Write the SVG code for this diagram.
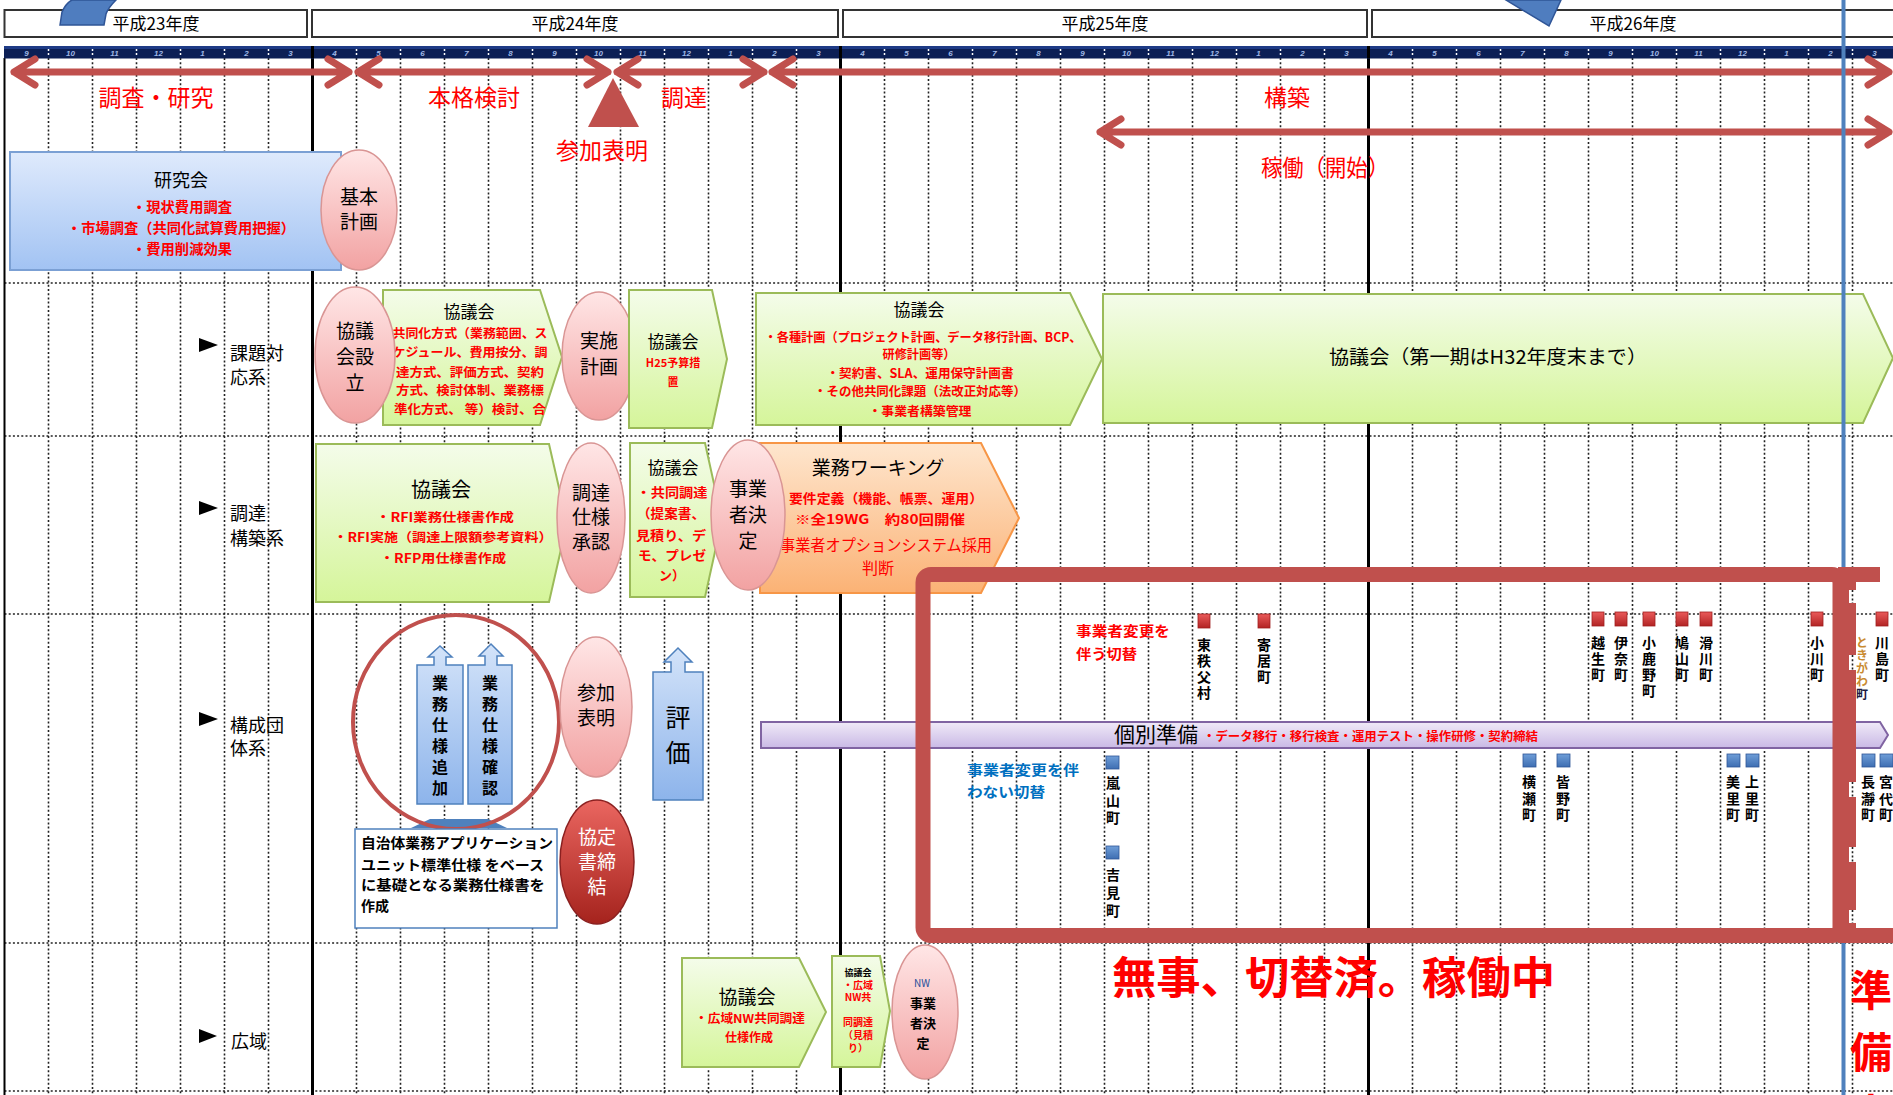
<svg xmlns="http://www.w3.org/2000/svg" width="1893" height="1095" viewBox="0 0 1893 1095">
<defs>
<linearGradient id="gBlue" x1="0" y1="0" x2="0" y2="1"><stop offset="0" stop-color="#dfeafc"/><stop offset="1" stop-color="#a2c3f3"/></linearGradient>
<linearGradient id="gPink" x1="0" y1="0" x2="0" y2="1"><stop offset="0" stop-color="#ffe6e6"/><stop offset="1" stop-color="#f2a2a2"/></linearGradient>
<linearGradient id="gGreen" x1="0" y1="0" x2="0" y2="1"><stop offset="0" stop-color="#f4fcea"/><stop offset="1" stop-color="#d5f59a"/></linearGradient>
<linearGradient id="gOrange" x1="0" y1="0" x2="0" y2="1"><stop offset="0" stop-color="#fee6ce"/><stop offset="1" stop-color="#fbb275"/></linearGradient>
<linearGradient id="gPurple" x1="0" y1="0" x2="0" y2="1"><stop offset="0" stop-color="#f0eaf8"/><stop offset="1" stop-color="#c9b9e5"/></linearGradient>
<linearGradient id="gDark" x1="0" y1="0" x2="0" y2="1"><stop offset="0" stop-color="#ea6660"/><stop offset="1" stop-color="#a5231d"/></linearGradient>
<linearGradient id="gCall" x1="0" y1="0" x2="0" y2="1"><stop offset="0" stop-color="#d3e3f9"/><stop offset="1" stop-color="#8db4eb"/></linearGradient>
<linearGradient id="gSqR" x1="0" y1="0" x2="0" y2="1"><stop offset="0" stop-color="#ea5a5a"/><stop offset="1" stop-color="#b22424"/></linearGradient>
<linearGradient id="gSqB" x1="0" y1="0" x2="0" y2="1"><stop offset="0" stop-color="#6f9ed8"/><stop offset="1" stop-color="#3e6eb2"/></linearGradient>
<style>
.f{font-family:"Noto Sans CJK JP","Noto Sans CJK SC",sans-serif}
.c{text-anchor:middle}
.b{font-weight:bold}
.r{fill:#ff0000}
.k{fill:#000}
.w{fill:#fff}
.v{writing-mode:vertical-rl;text-orientation:upright}
.dot{fill:none;stroke:#222;stroke-width:1.6;stroke-dasharray:2 2.2}
.thick{fill:none;stroke:#000;stroke-width:3}
.arr{fill:none;stroke:#c0504d;stroke-width:7;stroke-linecap:round;stroke-linejoin:round}
.pink{fill:url(#gPink);stroke:#d99594;stroke-width:1.5}
.green{fill:url(#gGreen);stroke:#9bbb59;stroke-width:2}
.orange{fill:url(#gOrange);stroke:#f79646;stroke-width:2}
.purple{fill:url(#gPurple);stroke:#8064a2;stroke-width:2}
.call{fill:url(#gCall);stroke:#4f81bd;stroke-width:1.5}
.sqr{fill:url(#gSqR);stroke:#a02020;stroke-width:0.8}
.sqb{fill:url(#gSqB);stroke:#2f5597;stroke-width:0.8}
.yr{fill:#fff;stroke:#333;stroke-width:2}
.ml{font-family:"Liberation Sans",sans-serif;font-size:8px;font-style:italic;font-weight:bold;fill:#9fb7e6;text-anchor:middle}
.frame{fill:#c0504d}
.tn{font-size:14px;letter-spacing:2px}
.tb{font-size:14px;letter-spacing:2.5px}
</style>
</defs>
<rect width="1893" height="1095" fill="#fff"/>

<g id="grid">
<path class="dot" d="M48.5,58V1095M92.5,58V1095M136.5,58V1095M180.5,58V1095M224.5,58V1095M268.5,58V1095M356.5,58V1095M400.5,58V1095M444.5,58V1095M488.5,58V1095M532.5,58V1095M576.5,58V1095M620.5,58V1095M664.5,58V1095M708.5,58V1095M752.5,58V1095M796.5,58V1095M884.5,58V1095M928.5,58V1095M972.5,58V1095M1016.5,58V1095M1060.5,58V1095M1104.5,58V1095M1148.5,58V1095M1192.5,58V1095M1236.5,58V1095M1280.5,58V1095M1324.5,58V1095M1412.5,58V1095M1456.5,58V1095M1500.5,58V1095M1544.5,58V1095M1588.5,58V1095M1632.5,58V1095M1676.5,58V1095M1720.5,58V1095M1764.5,58V1095M1808.5,58V1095M1852.5,58V1095"/>
<path class="dot" d="M4.5,283H1893M4.5,436H1893M4.5,614H1893M4.5,943H1893M4.5,1091H1893"/>
<path class="thick" d="M312.5,58V1095M840.5,58V1095M1368.5,58V1095"/>
<path d="M4.5,58V1095" stroke="#000" stroke-width="2"/>
</g>

<g id="header">
<rect x="4" y="46" width="1889" height="12.5" fill="#0c1f55"/>
<rect x="4" y="46" width="1889" height="3" fill="#1e3b86"/>
<path d="M312.5,46V58M840.5,46V58M1368.5,46V58" stroke="#000" stroke-width="3"/>
<path d="M48.5,49V57M92.5,49V57M136.5,49V57M180.5,49V57M224.5,49V57M268.5,49V57M356.5,49V57M400.5,49V57M444.5,49V57M488.5,49V57M532.5,49V57M576.5,49V57M620.5,49V57M664.5,49V57M708.5,49V57M752.5,49V57M796.5,49V57M884.5,49V57M928.5,49V57M972.5,49V57M1016.5,49V57M1060.5,49V57M1104.5,49V57M1148.5,49V57M1192.5,49V57M1236.5,49V57M1280.5,49V57M1324.5,49V57M1412.5,49V57M1456.5,49V57M1500.5,49V57M1544.5,49V57M1588.5,49V57M1632.5,49V57M1676.5,49V57M1720.5,49V57M1764.5,49V57M1808.5,49V57M1852.5,49V57" stroke="#fff" stroke-width="1.5" stroke-dasharray="2 2"/>
<text class="ml" x="26.5" y="56">9</text><text class="ml" x="70.5" y="56">10</text><text class="ml" x="114.5" y="56">11</text><text class="ml" x="158.5" y="56">12</text><text class="ml" x="202.5" y="56">1</text><text class="ml" x="246.5" y="56">2</text><text class="ml" x="290.5" y="56">3</text>
<text class="ml" x="334.5" y="56">4</text><text class="ml" x="378.5" y="56">5</text><text class="ml" x="422.5" y="56">6</text><text class="ml" x="466.5" y="56">7</text><text class="ml" x="510.5" y="56">8</text><text class="ml" x="554.5" y="56">9</text><text class="ml" x="598.5" y="56">10</text><text class="ml" x="642.5" y="56">11</text><text class="ml" x="686.5" y="56">12</text><text class="ml" x="730.5" y="56">1</text><text class="ml" x="774.5" y="56">2</text><text class="ml" x="818.5" y="56">3</text>
<text class="ml" x="862.5" y="56">4</text><text class="ml" x="906.5" y="56">5</text><text class="ml" x="950.5" y="56">6</text><text class="ml" x="994.5" y="56">7</text><text class="ml" x="1038.5" y="56">8</text><text class="ml" x="1082.5" y="56">9</text><text class="ml" x="1126.5" y="56">10</text><text class="ml" x="1170.5" y="56">11</text><text class="ml" x="1214.5" y="56">12</text><text class="ml" x="1258.5" y="56">1</text><text class="ml" x="1302.5" y="56">2</text><text class="ml" x="1346.5" y="56">3</text>
<text class="ml" x="1390.5" y="56">4</text><text class="ml" x="1434.5" y="56">5</text><text class="ml" x="1478.5" y="56">6</text><text class="ml" x="1522.5" y="56">7</text><text class="ml" x="1566.5" y="56">8</text><text class="ml" x="1610.5" y="56">9</text><text class="ml" x="1654.5" y="56">10</text><text class="ml" x="1698.5" y="56">11</text><text class="ml" x="1742.5" y="56">12</text><text class="ml" x="1786.5" y="56">1</text><text class="ml" x="1830.5" y="56">2</text><text class="ml" x="1874.5" y="56">3</text>
<rect class="yr" x="4.5" y="10" width="302.5" height="27"/>
<rect class="yr" x="312" y="10" width="526" height="27"/>
<rect class="yr" x="843" y="10" width="524" height="27"/>
<rect class="yr" x="1372" y="10" width="530" height="27"/>
<text class="f c k" font-size="17" x="156" y="30">平成23年度</text>
<text class="f c k" font-size="17" x="575" y="30">平成24年度</text>
<text class="f c k" font-size="17" x="1105" y="30">平成25年度</text>
<text class="f c k" font-size="17" x="1633" y="30">平成26年度</text>
<path d="M60,25 L62,12 Q66,3 72,0 L116,0 Q108,8 106,14 L104,25 Z" fill="#4f7dbf" stroke="#2f5597" stroke-width="1.5"/>
<path d="M1506,0 L1561,0 L1549,26 Z" fill="#4f7dbf" stroke="#2f5597" stroke-width="1.5"/>
</g>

<g id="row-labels">
<polygon points="199,338 199,352 218,345" fill="#000"/>
<text class="f k" font-size="18" x="230" y="360">課題対</text>
<text class="f k" font-size="18" x="230" y="384">応系</text>
<polygon points="199,501 199,515 218,508" fill="#000"/>
<text class="f k" font-size="18" x="230" y="520">調達</text>
<text class="f k" font-size="18" x="230" y="545">構築系</text>
<polygon points="199,712 199,726 218,719" fill="#000"/>
<text class="f k" font-size="18" x="230" y="732">構成団</text>
<text class="f k" font-size="18" x="230" y="755">体系</text>
<polygon points="199,1029 199,1043 217,1036" fill="#000"/>
<text class="f k" font-size="18" x="231" y="1048">広域</text>
</g>

<g id="connectors">
<path class="arr" d="M14,72H349M35,59L14,72L35,85M328,59L349,72L328,85"/>
<path class="arr" d="M358,72H608M379,59L358,72L379,85M587,59L608,72L587,85"/>
<path class="arr" d="M617,72H764M638,59L617,72L638,85M743,59L764,72L743,85"/>
<path class="arr" d="M772,72H1889M793,59L772,72L793,85M1868,59L1889,72L1868,85"/>
<path class="arr" d="M1100,132H1889M1121,119L1100,132L1121,145M1868,119L1889,132L1868,145"/>
<polygon points="613,78 588,127 639,127" fill="#c0504d"/>
</g>

<g id="phase-labels">
<text class="f c r" font-size="23" x="156" y="106">調査・研究</text>
<text class="f c r" font-size="23" x="474" y="106">本格検討</text>
<text class="f c r" font-size="23" x="684" y="106">調達</text>
<text class="f c r" font-size="23" x="602" y="159">参加表明</text>
<text class="f c r" font-size="23" x="1287" y="106">構築</text>
<text class="f r" font-size="23" x="1261" y="176" textLength="128" lengthAdjust="spacingAndGlyphs">稼働（開始）</text>
</g>

<g id="kenkyukai">
<rect x="10" y="152" width="331" height="118" fill="url(#gBlue)" stroke="#7ba0d4" stroke-width="2"/>
<text class="f c k" font-size="18" x="181" y="187">研究会</text>
<text class="f c b r" font-size="14" x="182" y="212" textLength="100" lengthAdjust="spacingAndGlyphs">・現状費用調査</text>
<text class="f c b r" font-size="14" x="181" y="233" textLength="228" lengthAdjust="spacingAndGlyphs">・市場調査（共同化試算費用把握）</text>
<text class="f c b r" font-size="14" x="182" y="254" textLength="100" lengthAdjust="spacingAndGlyphs">・費用削減効果</text>
</g>
<g id="kihon-keikaku">
<ellipse class="pink" cx="359" cy="210" rx="38" ry="60"/>
<text class="f c k" font-size="19" x="359" y="204">基本</text>
<text class="f c k" font-size="19" x="359" y="229">計画</text>
</g>

<g id="kyogikai-a">
<polygon class="green" points="383,290 540,290 562,357 540,425 383,425"/>
<text class="f c k" font-size="17" x="469" y="318">協議会</text>
<text class="f c b r" font-size="12.5" x="470" y="338" textLength="155" lengthAdjust="spacingAndGlyphs">共同化方式（業務範囲、ス</text>
<text class="f c b r" font-size="12.5" x="470" y="357" textLength="155" lengthAdjust="spacingAndGlyphs">ケジュール、費用按分、調</text>
<text class="f c b r" font-size="12.5" x="470" y="377" textLength="148" lengthAdjust="spacingAndGlyphs">達方式、評価方式、契約</text>
<text class="f c b r" font-size="12.5" x="470" y="395" textLength="148" lengthAdjust="spacingAndGlyphs">方式、検討体制、業務標</text>
<text class="f c b r" font-size="12.5" x="470" y="414" textLength="152" lengthAdjust="spacingAndGlyphs">準化方式、 等）検討、合</text>
</g>
<g id="kyogikai-setsuritsu">
<ellipse class="pink" cx="355" cy="355" rx="40" ry="68"/>
<text class="f c k" font-size="19" x="355" y="338">協議</text>
<text class="f c k" font-size="19" x="355" y="364">会設</text>
<text class="f c k" font-size="19" x="355" y="390">立</text>
</g>
<g id="jisshi-keikaku">
<ellipse class="pink" cx="599" cy="356" rx="37" ry="64"/>
<text class="f c k" font-size="19" x="599" y="348">実施</text>
<text class="f c k" font-size="19" x="599" y="374">計画</text>
</g>
<g id="kyogikai-b">
<polygon class="green" points="629,290 712,290 727,359 712,428 629,428"/>
<text class="f c k" font-size="17" x="673" y="348">協議会</text>
<text class="f c b r" font-size="11" x="673" y="367">H25予算措</text>
<text class="f c b r" font-size="11" x="673" y="386">置</text>
</g>
<g id="kyogikai-c">
<polygon class="green" points="756,293 1070,293 1102,359 1070,425 756,425"/>
<text class="f c k" font-size="17" x="919" y="316">協議会</text>
<text class="f c b r" font-size="12.5" x="923" y="342" textLength="317" lengthAdjust="spacingAndGlyphs">・各種計画（プロジェクト計画、データ移行計画、BCP、</text>
<text class="f c b r" font-size="12.5" x="919" y="359" textLength="73" lengthAdjust="spacingAndGlyphs">研修計画等）</text>
<text class="f c b r" font-size="12.5" x="920" y="378" textLength="187" lengthAdjust="spacingAndGlyphs">・契約書、SLA、運用保守計画書</text>
<text class="f c b r" font-size="12.5" x="920" y="396" textLength="212" lengthAdjust="spacingAndGlyphs">・その他共同化課題（法改正対応等）</text>
<text class="f c b r" font-size="12.5" x="920" y="416" textLength="103" lengthAdjust="spacingAndGlyphs">・事業者構築管理</text>
</g>
<g id="kyogikai-d">
<polygon class="green" points="1103,294 1863,294 1893,358 1863,423 1103,423"/>
<text class="f c k" font-size="19" x="1488" y="364" textLength="318" lengthAdjust="spacingAndGlyphs">協議会（第一期はH32年度末まで）</text>
</g>

<g id="kyogikai-e">
<polygon class="green" points="316,444 549,444 567,523 549,602 316,602"/>
<text class="f c k" font-size="20" x="441" y="497">協議会</text>
<text class="f c b r" font-size="12.5" x="445" y="522" textLength="138" lengthAdjust="spacingAndGlyphs">・RFI業務仕様書作成</text>
<text class="f c b r" font-size="12.5" x="443" y="542" textLength="219" lengthAdjust="spacingAndGlyphs">・RFI実施（調達上限額参考資料）</text>
<text class="f c b r" font-size="12.5" x="443" y="563" textLength="126" lengthAdjust="spacingAndGlyphs">・RFP用仕様書作成</text>
</g>
<g id="chotatsu-shiyo">
<ellipse class="pink" cx="591" cy="518" rx="34" ry="75"/>
<text class="f c k" font-size="19" x="591" y="500">調達</text>
<text class="f c k" font-size="19" x="591" y="524">仕様</text>
<text class="f c k" font-size="19" x="591" y="549">承認</text>
</g>
<g id="kyogikai-f">
<polygon class="green" points="630,443 705,443 722,520 705,597 630,597"/>
<text class="f c k" font-size="17" x="673" y="474">協議会</text>
<text class="f c b r" font-size="13" x="672" y="497" textLength="71" lengthAdjust="spacingAndGlyphs">・共同調達</text>
<text class="f c b r" font-size="13" x="671" y="518" textLength="68" lengthAdjust="spacingAndGlyphs">（提案書、</text>
<text class="f c b r" font-size="13" x="671" y="540" textLength="70" lengthAdjust="spacingAndGlyphs">見積り、デ</text>
<text class="f c b r" font-size="13" x="672" y="560" textLength="68" lengthAdjust="spacingAndGlyphs">モ、プレゼ</text>
<text class="f c b r" font-size="13" x="672" y="580">ン）</text>
</g>
<g id="gyomu-working">
<polygon class="orange" points="760,443 981,443 1019,518 981,593 760,593"/>
<text class="f c k" font-size="19" x="878" y="475">業務ワーキング</text>
<text class="f c b r" font-size="13" x="886" y="503" textLength="194" lengthAdjust="spacingAndGlyphs">要件定義（機能、帳票、運用）</text>
<text class="f c b r" font-size="13" x="880" y="524" textLength="170" lengthAdjust="spacingAndGlyphs">※全19WG　約80回開催</text>
<text class="f c r" font-size="16" x="886" y="551" textLength="212" lengthAdjust="spacingAndGlyphs">事業者オプションシステム採用</text>
<text class="f c r" font-size="16" x="878" y="574">判断</text>
</g>
<g id="jigyosha-kettei">
<ellipse class="pink" cx="748" cy="515" rx="37" ry="75"/>
<text class="f c k" font-size="19" x="748" y="496">事業</text>
<text class="f c k" font-size="19" x="748" y="522">者決</text>
<text class="f c k" font-size="19" x="748" y="548">定</text>
</g>

<g id="shiyo-callouts">
<polygon points="411,828 430,819 488,819 507,828" fill="#4f81bd"/>
<path class="call" d="M417,665 L434,665 L434,657 L428,657 L440,646 L452,657 L446,657 L446,665 L463,665 L463,804 L417,804 Z"/>
<text class="f b k v" font-size="16" letter-spacing="5" x="440" y="675">業務仕様追加</text>
<path class="call" d="M468,665 L485,665 L485,656 L479,656 L491,644 L503,656 L497,656 L497,665 L512,665 L512,804 L468,804 Z"/>
<text class="f b k v" font-size="16" letter-spacing="5" x="490" y="675">業務仕様確認</text>
<ellipse cx="456" cy="722" rx="103" ry="107" fill="none" stroke="#c0504d" stroke-width="4"/>
</g>
<g id="unit-note">
<rect x="355" y="829" width="202" height="99" fill="#fff" stroke="#4f81bd" stroke-width="1.5"/>
<text class="f b k" font-size="14" x="361" y="848" textLength="192" lengthAdjust="spacingAndGlyphs">自治体業務アプリケーション</text>
<text class="f b k" font-size="14" x="361" y="870" textLength="183" lengthAdjust="spacingAndGlyphs">ユニット標準仕様 をベース</text>
<text class="f b k" font-size="14" x="361" y="890" textLength="184" lengthAdjust="spacingAndGlyphs">に基礎となる業務仕様書を</text>
<text class="f b k" font-size="14" x="361" y="911">作成</text>
</g>
<g id="sanka-hyomei">
<ellipse class="pink" cx="596" cy="707" rx="36" ry="70"/>
<text class="f c k" font-size="19" x="596" y="700">参加</text>
<text class="f c k" font-size="19" x="596" y="725">表明</text>
</g>
<g id="kyoteisho">
<ellipse cx="597" cy="862" rx="37" ry="62" fill="url(#gDark)" stroke="#8b2020" stroke-width="1.5"/>
<text class="f c w" font-size="19" x="597" y="844">協定</text>
<text class="f c w" font-size="19" x="597" y="869">書締</text>
<text class="f c w" font-size="19" x="597" y="894">結</text>
</g>
<g id="hyoka">
<path class="call" d="M653,672 L671,672 L671,662 L664,662 L678,648 L692,662 L685,662 L685,672 L703,672 L703,800 L653,800 Z"/>
<text class="f c k" font-size="25" x="678" y="727">評</text>
<text class="f c k" font-size="25" x="678" y="762">価</text>
</g>
<g id="kobetsu-junbi">
<polygon class="purple" points="761,722 1880,722 1888,735 1880,748 761,748"/>
<text class="f k" font-size="21" x="1114" y="742">個別準備</text>
<text class="f b r" font-size="12" x="1203" y="741" textLength="335" lengthAdjust="spacingAndGlyphs">・データ移行・移行検査・運用テスト・操作研修・契約締結</text>
</g>

<g id="kouiki-a">
<polygon class="green" points="682,958 799,958 826,1012 799,1067 682,1067"/>
<text class="f c k" font-size="19" x="747" y="1004">協議会</text>
<text class="f c b r" font-size="12" x="750" y="1023" textLength="110" lengthAdjust="spacingAndGlyphs">・広域NW共同調達</text>
<text class="f c b r" font-size="12" x="749" y="1042">仕様作成</text>
</g>
<g id="kouiki-b">
<polygon class="green" points="832,956 880,956 890,1011 880,1067 832,1067"/>
<text class="f c b k" font-size="9" x="858" y="976">協議会</text>
<text class="f c b r" font-size="10" x="858" y="989">・広域</text>
<text class="f c b r" font-size="10" x="858" y="1001">NW共</text>
<text class="f c b r" font-size="10" x="858" y="1026">同調達</text>
<text class="f c b r" font-size="10" x="858" y="1039">（見積</text>
<text class="f c b r" font-size="10" x="858" y="1052">り）</text>
</g>
<g id="nw-jigyosha">
<ellipse class="pink" cx="925" cy="1012" rx="33" ry="67"/>
<text class="f c" font-size="10" fill="#1f4e9a" x="922" y="987">NW</text>
<text class="f c b k" font-size="13" x="923" y="1008">事業</text>
<text class="f c b k" font-size="13" x="923" y="1028">者決</text>
<text class="f c b k" font-size="13" x="923" y="1048">定</text>
</g>

<g id="now-line">
<rect x="1841.5" y="0" width="4" height="1095" fill="#4f81bd"/>
</g>

<g id="switch-towns">
<text class="f b r" font-size="14" x="1076" y="636" textLength="94" lengthAdjust="spacingAndGlyphs">事業者変更を</text>
<text class="f b r" font-size="14" x="1076" y="659" textLength="61" lengthAdjust="spacingAndGlyphs">伴う切替</text>
<text class="f b" font-size="14" fill="#0070c0" x="967" y="775" textLength="112" lengthAdjust="spacingAndGlyphs">事業者変更を伴</text>
<text class="f b" font-size="14" fill="#0070c0" x="967" y="797" textLength="78" lengthAdjust="spacingAndGlyphs">わない切替</text>
<g id="town-higashichichibu"><rect class="sqr" x="1198" y="614" width="12" height="14"/><text class="f b k v tn" x="1204" y="638">東秩父村</text></g>
<g id="town-yorii"><rect class="sqr" x="1258" y="614" width="12" height="14"/><text class="f b k v tn" x="1264" y="638">寄居町</text></g>
<g id="town-ogose"><rect class="sqr" x="1592" y="612" width="12" height="14"/><text class="f b k v tn" x="1598" y="636">越生町</text></g>
<g id="town-ina"><rect class="sqr" x="1615" y="612" width="12" height="14"/><text class="f b k v tn" x="1621" y="636">伊奈町</text></g>
<g id="town-ogano"><rect class="sqr" x="1643" y="612" width="12" height="14"/><text class="f b k v tn" x="1649" y="636">小鹿野町</text></g>
<g id="town-hatoyama"><rect class="sqr" x="1676" y="612" width="12" height="14"/><text class="f b k v tn" x="1682" y="636">鳩山町</text></g>
<g id="town-namegawa"><rect class="sqr" x="1700" y="612" width="12" height="14"/><text class="f b k v tn" x="1706" y="636">滑川町</text></g>
<g id="town-ogawa"><rect class="sqr" x="1811" y="612" width="12" height="14"/><text class="f b k v tn" x="1817" y="636">小川町</text></g>
<g id="town-tokigawa"><text class="f b v" font-size="12" letter-spacing="1" fill="#c98a30" x="1862" y="636">ときがわ<tspan fill="#1a1a40">町</tspan></text></g>
<g id="town-kawajima"><rect class="sqr" x="1876" y="612" width="12" height="14"/><text class="f b k v tn" x="1882" y="636">川島町</text></g>
<g id="town-ranzan"><rect class="sqb" x="1106" y="756" width="13" height="13"/><text class="f b k v" font-size="14" letter-spacing="3.5" x="1113" y="776">嵐山町</text></g>
<g id="town-yoshimi"><rect class="sqb" x="1106" y="846" width="13" height="13"/><text class="f b k v" font-size="14" letter-spacing="4" x="1113" y="868">吉見町</text></g>
<g id="town-yokoze"><rect class="sqb" x="1523" y="754" width="13" height="13"/><text class="f b k v tb" x="1529" y="775">横瀬町</text></g>
<g id="town-minano"><rect class="sqb" x="1557" y="754" width="13" height="13"/><text class="f b k v tb" x="1563" y="775">皆野町</text></g>
<g id="town-misato"><rect class="sqb" x="1727" y="754" width="13" height="13"/><text class="f b k v tb" x="1733" y="775">美里町</text></g>
<g id="town-kamisato"><rect class="sqb" x="1746" y="754" width="13" height="13"/><text class="f b k v tb" x="1752" y="775">上里町</text></g>
<g id="town-nagatoro"><rect class="sqb" x="1862" y="754" width="13" height="13"/><text class="f b k v tb" x="1868" y="775">長瀞町</text></g>
<g id="town-miyashiro"><rect class="sqb" x="1880" y="754" width="13" height="13"/><text class="f b k v tb" x="1886" y="775">宮代町</text></g>
</g>

<g id="red-frame">
<rect x="923" y="574.5" width="917" height="361" rx="8" fill="none" stroke="#c0504d" stroke-width="15"/>
<rect class="frame" x="1838" y="567" width="42" height="15"/>
<rect class="frame" x="1846" y="580" width="10" height="350"/>
<rect class="frame" x="1838" y="928" width="55" height="15"/>
<g fill="#fff"><rect x="1849" y="590" width="7" height="13"/><rect x="1849" y="655" width="7" height="15"/><rect x="1849" y="782" width="7" height="15"/><rect x="1849" y="847" width="7" height="15"/><rect x="1849" y="910" width="7" height="13"/></g>
<path d="M1852.5,590V603M1852.5,655V670M1852.5,782V797M1852.5,847V862M1852.5,910V923" stroke="#222" stroke-width="1.6" stroke-dasharray="2 2.2"/>
</g>

<g id="status-text">
<text class="f b r" font-size="44" x="1112" y="994" textLength="443" lengthAdjust="spacingAndGlyphs">無事、切替済。稼働中</text>
<text class="f b r v" font-size="42" letter-spacing="20" x="1871" y="969">準備中</text>
</g>
</svg>
